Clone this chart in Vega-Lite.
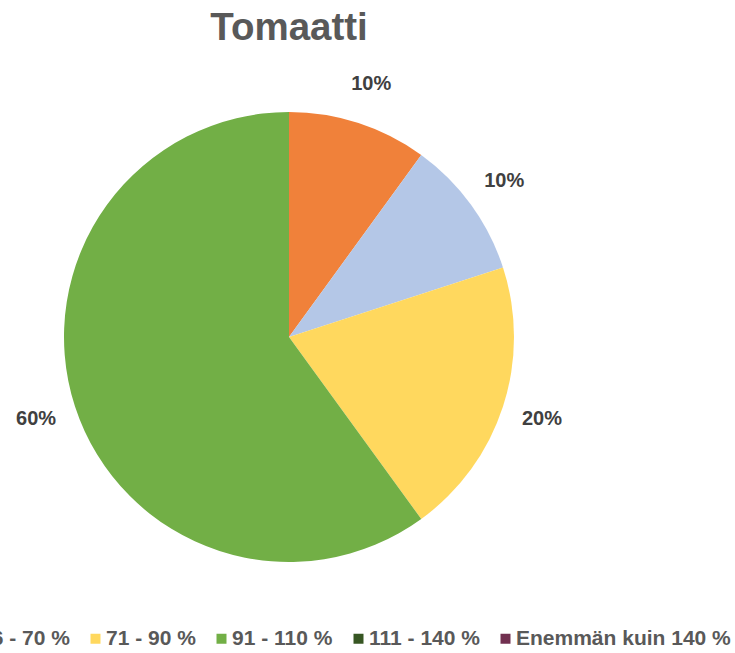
{
  "$schema": "https://vega.github.io/schema/vega-lite/v6.json",
  "width": 450,
  "height": 450,
  "autosize": {"type": "none"},
  "padding": {"left": 64, "top": 112, "right": 221, "bottom": 91},
  "background": "white",
  "title": {
    "text": "Tomaatti",
    "fontSize": 38.5,
    "font": "Liberation Sans",
    "fontWeight": "bold",
    "color": "#595959",
    "anchor": "middle",
    "offset": 26
  },
  "data": {
    "values": [
      {"category": "Alle 46 %", "value": 10, "label": "10%", "order": 1},
      {"category": "46 - 70 %", "value": 10, "label": "10%", "order": 2},
      {"category": "71 - 90 %", "value": 20, "label": "20%", "order": 3},
      {"category": "91 - 110 %", "value": 60, "label": "60%", "order": 4},
      {"category": "111 - 140 %", "value": 0, "label": "", "order": 5},
      {"category": "Enemmän kuin 140 %", "value": 0, "label": "", "order": 6}
    ]
  },
  "encoding": {
    "theta": {"field": "value", "type": "quantitative", "stack": true},
    "order": {"field": "order", "type": "quantitative"}
  },
  "layer": [
    {
      "mark": {"type": "arc"},
      "encoding": {
        "color": {
          "field": "category",
          "type": "nominal",
          "sort": null,
          "scale": {
            "domain": ["Alle 46 %", "46 - 70 %", "71 - 90 %", "91 - 110 %", "111 - 140 %", "Enemmän kuin 140 %"],
            "range": ["#F0813A", "#B4C7E7", "#FFD85E", "#72AF46", "#375623", "#713050"]
          },
          "legend": {
            "orient": "none",
            "legendX": -234,
            "legendY": 516,
            "direction": "horizontal",
            "columns": 6,
            "title": null,
            "symbolType": "square",
            "symbolSize": 100,
            "symbolStrokeWidth": 0,
            "labelFontSize": 21,
            "labelFont": "Liberation Sans",
            "labelFontWeight": "bold",
            "labelColor": "#595959",
            "labelOffset": 0,
            "columnPadding": 15,
            "labelLimit": 400,
            "padding": 0
          }
        }
      }
    },
    {
      "transform": [{"filter": "datum.value > 0"}],
      "mark": {
        "type": "text",
        "radius": 266,
        "fontSize": 20,
        "font": "Liberation Sans",
        "fontWeight": "bold",
        "color": "#404040"
      },
      "encoding": {
        "text": {"field": "label", "type": "nominal"}
      }
    }
  ]
}
